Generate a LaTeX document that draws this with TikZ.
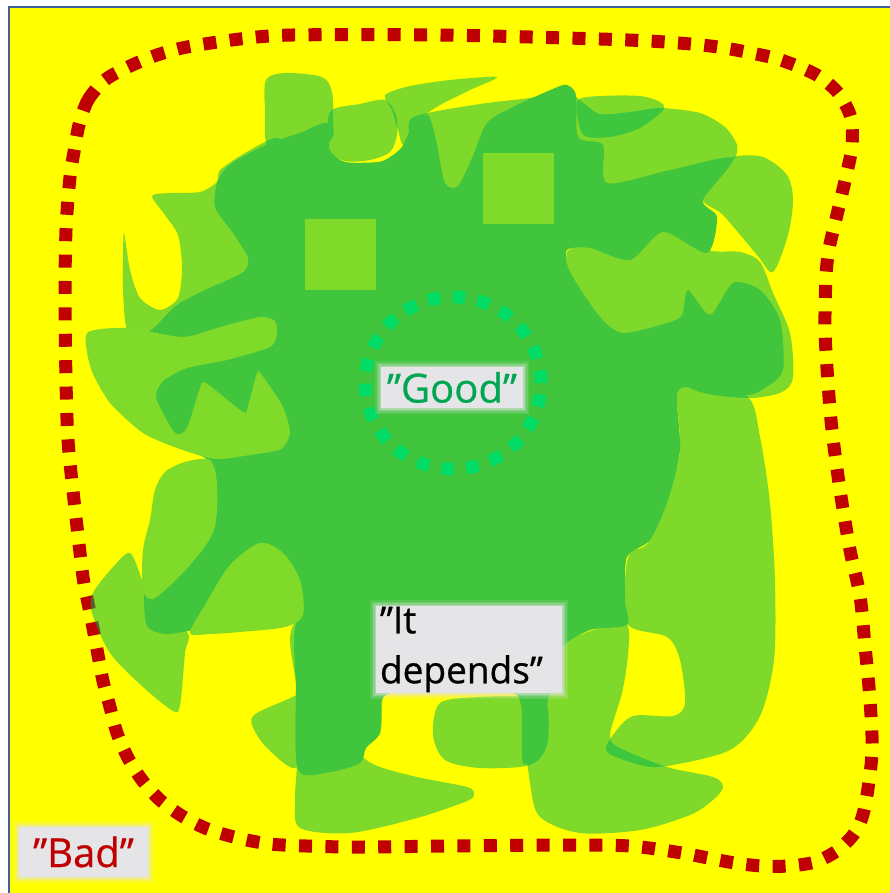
\documentclass[tikz,border=0pt]{standalone}
\usepackage{fontspec}
\setmainfont{Open Sans}
\newfontfamily\labelfont{Open Sans}[FakeBold=0.7]
\definecolor{paper}{RGB}{255,255,0}
\definecolor{frameblue}{RGB}{62,96,156}
\definecolor{badred}{RGB}{192,0,0}
\definecolor{blobgreen}{RGB}{0,181,84}
\definecolor{coregreen}{RGB}{65,197,61}
\definecolor{leafgreen}{RGB}{128,218,42}
\definecolor{ringgreen}{RGB}{0,220,102}
\definecolor{goodtext}{RGB}{0,166,81}
\definecolor{boxgray}{RGB}{229,229,231}
\begin{document}
\begin{tikzpicture}[x=1pt,y=-1pt,
  blob/.style={fill=blobgreen, fill opacity=0.5},
  core/.style={fill=coregreen},
  patch/.style={fill=leafgreen},
  reddots/.style={draw=badred, line width=13pt, dash pattern=on 13pt off 13.4pt},
  greendots/.style={draw=ringgreen, line width=12.5pt, dash pattern=on 12.5pt off 12.4pt},
  softbox/.style={fill=boxgray, inner sep=0pt,
    preaction={draw=boxgray, line width=12pt, draw opacity=0.12, rounded corners=4pt},
    preaction={draw=boxgray, line width=9pt, draw opacity=0.16, rounded corners=3pt},
    preaction={draw=boxgray, line width=6pt, draw opacity=0.24, rounded corners=2pt},
    preaction={draw=boxgray, line width=3pt, draw opacity=0.4, rounded corners=1pt}},
  labeltext/.style={font=\labelfont\fontsize{#1}{50}\selectfont}
]
\useasboundingbox (0,0) rectangle (890,893);
\fill[white] (0,0) rectangle (890,893);
% yellow field with its thin frame
\draw[fill=paper, draw=frameblue, line width=2pt] (9,7.5) rectangle (905,905);

% outer dotted boundary
\draw[reddots] plot[smooth cycle, tension=0.5] coordinates {
 (79,125) (88,100) (105,80) (128,67) (157,55) (187,47) (240,39) (293,35) (440,35)
 (600,39) (665,42) (718,47) (770,57) (797,66) (820,77) (839,94) (851,118) (852,146)
 (847,172) (841,198) (835,223) (829,249) (826,276) (825,330) (828,383) (832,430)
 (840,490) (850,550) (860,596) (865,646) (870,700) (872,753) (865,806) (856,831)
 (838,850) (815,862) (788,866) (762,866) (735,863) (708,858) (682,853) (630,846)
 (560,845) (450,846) (350,847) (283,845) (257,842) (230,836) (205,828) (182,816)
 (160,800) (142,780) (128,758) (117,733) (110,707) (103,681) (98,655) (93,628)
 (88,603) (83,577) (74,500) (68,440) (66,380) (65,300) (66,230) (70,177) (74,152)};

% translucent outer lobes
\fill[blob] plot[smooth cycle, tension=0.5] coordinates {
 (266,80) (285,73) (322,77) (332,92) (333,120) (331,140) (300,150) (268,147) (265,110)};
\fill[blob] plot[smooth cycle, tension=0.45] coordinates {
 (124,233) (123,260) (123,290) (127,330) (145,336) (165,332) (210,305) (260,275)
 (270,220) (285,150) (275,138) (245,153) (220,170) (217,182) (200,192) (170,193)
 (152,196) (165,215) (178,235) (182,267) (178,298) (160,310) (140,298) (130,270)};
\fill[blob] plot[smooth cycle, tension=0.5] coordinates {
 (330,112) (360,104) (385,100) (396,115) (397,135) (390,152) (370,160) (345,161) (330,150)};
\fill[blob] plot[smooth cycle, tension=0.45] coordinates {
 (385,95) (410,86) (450,80) (497,77) (470,90) (440,105) (425,115) (412,128)
 (403,145) (398,130) (392,110)};
\fill[blob] plot[smooth cycle, tension=0.45] coordinates {
 (412,118) (480,104) (530,98) (565,90) (582,102) (600,114) (630,112) (660,108)
 (700,113) (725,127) (737,145) (733,160) (700,172) (650,180) (607,186) (585,160)
 (560,140) (520,135) (498,130) (480,168) (452,198) (428,178) (414,148)};
\fill[blob] plot[smooth cycle, tension=0.5] coordinates {
 (578,100) (600,96) (640,96) (660,102) (663,110) (640,128) (610,137) (585,136) (578,120)};
\fill[blob] plot[smooth cycle, tension=0.5] coordinates {
 (703,200) (718,172) (733,157) (763,157) (787,175) (793,200) (788,235) (773,272)
 (757,255) (723,215)};
\fill[blob] plot[smooth cycle, tension=0.5] coordinates {
 (567,252) (590,246) (630,257) (663,230) (707,250) (740,252) (760,262) (773,293)
 (790,333) (793,377) (782,392) (750,398) (700,392) (660,370) (623,345) (598,318) (572,285)};
\fill[blob] plot[smooth cycle, tension=0.5] coordinates {
 (677,383) (700,381) (748,397) (760,437) (770,503) (775,583) (774,660) (760,716)
 (730,750) (667,766) (640,765) (607,752) (613,735) (633,716) (673,716) (685,703)
 (680,660) (667,637) (628,625) (625,583) (630,553) (650,540) (677,467) (680,437)};
\fill[blob] plot[smooth cycle, tension=0.5] coordinates {
 (523,717) (530,783) (540,817) (580,833) (640,830) (690,815) (713,800) (723,787)
 (713,777) (667,767) (620,748) (610,735) (622,693) (628,655) (627,625) (600,628)
 (570,640) (545,665) (530,690)};
\fill[blob] plot[smooth cycle, tension=0.5] coordinates {
 (440,703) (480,697) (530,697) (547,705) (547,745) (530,765) (480,768) (445,760) (433,735)};
\fill[blob] plot[smooth cycle, tension=0.5] coordinates {
 (297,622) (340,627) (380,640) (382,700) (380,733) (366,747) (363,757) (380,767)
 (417,777) (467,787) (474,794) (467,801) (417,818) (350,833) (300,828) (295,800)
 (297,760) (296,690)};
\fill[blob] plot[smooth cycle, tension=0.5] coordinates {
 (300,620) (337,630) (339,642) (317,673) (300,693) (257,713) (252,725) (267,748)
 (297,767) (298,700) (290,640)};
\fill[blob] plot[smooth cycle, tension=0.5] coordinates {
 (113,567) (130,553) (142,580) (148,600) (187,632) (185,653) (180,705) (173,711)
 (143,687) (110,653) (92,613) (93,593)};

% dense middle
\fill[core] plot[smooth cycle, tension=0.45] coordinates {
 (177,305) (205,290) (242,273) (248,258) (233,233) (215,207) (218,180) (232,163)
 (270,143) (300,133) (327,123) (330,150) (345,162) (378,162) (390,157) (402,147)
 (412,127) (428,115) (436,140) (445,183) (458,186) (472,158) (487,123) (513,107)
 (555,88) (567,85) (576,95) (578,137) (603,145) (607,183) (670,170) (733,158)
 (703,200) (717,217) (707,253) (663,232) (630,260) (590,248) (567,250) (570,272)
 (600,317) (623,333) (667,323) (682,315) (688,290) (710,315) (733,283) (760,290)
 (780,320) (783,370) (765,388) (745,395) (690,387) (677,395) (680,450) (668,500)
 (650,540) (627,557) (625,600) (627,625) (590,630) (560,650) (548,700) (540,750)
 (523,763) (521,705) (505,692) (400,692) (382,700) (380,733) (366,748) (360,763)
 (330,772) (298,770) (296,690) (300,624) (280,621) (240,625) (205,628) (188,631)
 (165,634) (147,626) (144,595) (147,550) (155,505) (178,475) (208,461) (180,446)
 (150,428) (133,400) (130,370) (136,345) (157,325)};

% lighter lobes lying over the middle
\fill[patch] plot[smooth cycle, tension=0.4] coordinates {
 (87,333) (127,328) (183,337) (220,327) (260,317) (275,321) (277,334) (270,347)
 (227,360) (187,368) (163,381) (156,398) (175,433) (187,428) (200,388) (206,383)
 (243,412) (248,406) (257,373) (261,374) (282,405) (290,432) (281,449) (250,455)
 (215,459) (177,448) (143,433) (110,403) (91,369)};
\fill[patch] plot[smooth cycle, tension=0.5] coordinates {
 (150,520) (155,490) (165,472) (185,462) (210,460) (217,485) (214,530) (190,565)
 (155,598) (143,590) (143,550)};
\fill[patch] plot[smooth cycle, tension=0.5] coordinates {
 (190,633) (205,605) (230,565) (260,543) (283,553) (300,580) (303,615) (285,627)
 (240,632) (210,634)};
\fill[patch] (305,219) rectangle (376,290);
\fill[patch] (483,153) rectangle (554,224);

% dotted ring
\draw[greendots] (453,383) ellipse [x radius=88pt, y radius=86pt];

% labels
\node[softbox, minimum width=142pt, minimum height=41pt, text=goodtext,
  labeltext=40] (good) at (452,387.5) {”Good”};
\node[softbox, minimum width=186pt, minimum height=87pt, text width=178pt, align=left,
  labeltext=37] (depends) at (469,649.5) {”It\\depends”};
\node[softbox, minimum width=129pt, minimum height=50pt, text=badred,
  labeltext=40] (bad) at (83.5,852) {”Bad”};
\end{tikzpicture}
\end{document}
